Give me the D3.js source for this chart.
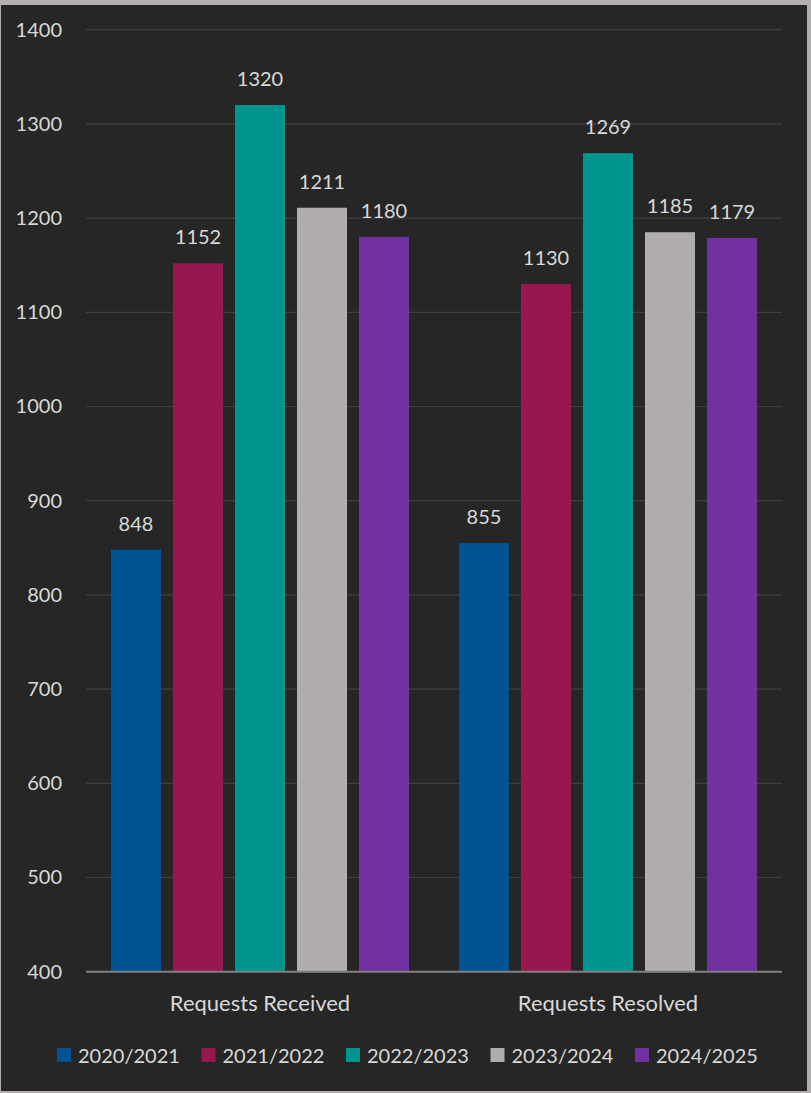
<!DOCTYPE html>
<html>
<head>
<meta charset="utf-8">
<script src="https://cdn.jsdelivr.net/npm/d3@7/dist/d3.min.js"></script>
<style>
  html, body { margin: 0; padding: 0; background: #b3afae; }
  svg { display: block; }
  text { font-family: Lato, "Open Sans", sans-serif; fill: #d9d9d9; }
</style>
</head>
<body>
<script>
// Request volumes by financial year
const categories = ["Requests Received", "Requests Resolved"];
const seriesNames = ["2020/2021", "2021/2022", "2022/2023", "2023/2024", "2024/2025"];
const received = [848, 1152, 1320, 1211, 1180];
const resolved = [855, 1130, 1269, 1185, 1179];
const yTicks = [400, 500, 600, 700, 800, 900, 1000, 1100, 1200, 1300, 1400];
const colors = ["#005494", "#98174e", "#00948f", "#b1adac", "#7131a1"];

const values = [received, resolved];

const W = 811, H = 1093;
const svg = d3.select("body").append("svg").attr("width", W).attr("height", H);

// frame and dark panel
svg.append("rect").attr("x", 0).attr("y", 0).attr("width", W).attr("height", H).attr("fill", "#b3afae");
svg.append("rect").attr("x", 1).attr("y", 5).attr("width", 806).attr("height", 1086).attr("fill", "#262626");

const plot = { left: 86, right: 782, top: 29.7, bottom: 971.7 };

const y = d3.scaleLinear().domain([400, 1400]).range([plot.bottom, plot.top]);
const x0 = d3.scaleBand().domain(categories).range([plot.left, plot.right]).padding(0);
const x1 = d3.scaleBand().domain(seriesNames).range([0, x0.bandwidth()])
  .paddingInner(12 / 62).paddingOuter(0.4032);

// gridlines
svg.append("g").selectAll("line").data(yTicks.filter(t => t > 400)).join("line")
  .attr("x1", plot.left).attr("x2", plot.right)
  .attr("y1", d => y(d)).attr("y2", d => y(d))
  .attr("stroke", "#404040").attr("stroke-width", 1.2);

// y axis labels
const yAxis = d3.axisLeft(y).tickValues(yTicks).tickFormat(d3.format("d")).tickSize(0).tickPadding(24);
const gy = svg.append("g").attr("transform", `translate(${plot.left},0)`).call(yAxis);
gy.select(".domain").remove();
gy.selectAll("text").attr("font-size", 20).style("font-family", "Lato, sans-serif").attr("fill", "#d9d9d9");

// bars
const groups = svg.append("g").selectAll("g").data(categories).join("g")
  .attr("transform", d => `translate(${x0(d)},0)`);

groups.selectAll("rect")
  .data((d, i) => seriesNames.map((s, j) => ({ s, v: values[i][j], c: colors[j] })))
  .join("rect")
  .attr("x", d => x1(d.s)).attr("width", x1.bandwidth())
  .attr("y", d => y(d.v)).attr("height", d => y(400) - y(d.v))
  .attr("fill", d => d.c);

groups.selectAll("text.val")
  .data((d, i) => seriesNames.map((s, j) => ({ s, v: values[i][j] })))
  .join("text").attr("class", "val")
  .attr("x", d => x1(d.s) + x1.bandwidth() / 2)
  .attr("y", d => y(d.v) - 19)
  .attr("text-anchor", "middle").attr("font-size", 20)
  .text(d => d.v);

// x axis baseline
svg.append("line").attr("x1", plot.left).attr("x2", plot.right)
  .attr("y1", y(400)).attr("y2", y(400))
  .attr("stroke", "#808080").attr("stroke-width", 2);

// category labels
const xAxis = d3.axisBottom(x0).tickSize(0).tickPadding(24);
const gx = svg.append("g").attr("transform", `translate(0,${y(400)})`).call(xAxis);
gx.select(".domain").remove();
gx.selectAll("text").attr("font-size", 22).style("font-family", "Lato, sans-serif").attr("fill", "#d9d9d9");

// legend
const legend = svg.append("g").selectAll("g").data(seriesNames).join("g")
  .attr("transform", (d, i) => `translate(${57 + i * 144.5},1048)`);
legend.append("rect").attr("width", 14).attr("height", 14).attr("fill", (d, i) => colors[i]);
legend.append("text").attr("x", 21).attr("y", 14.5).attr("font-size", 20).text(d => d);
</script>
</body>
</html>
